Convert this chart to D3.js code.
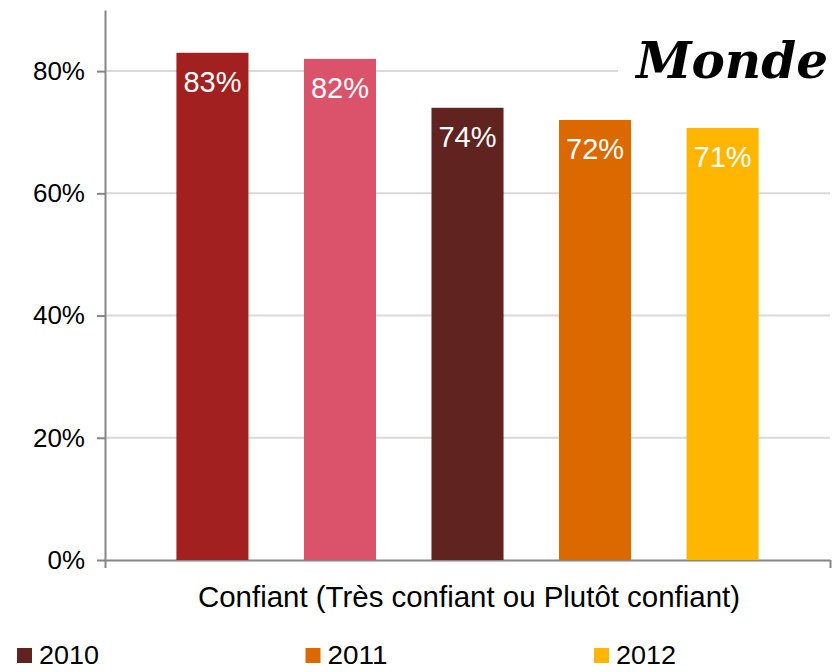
<!DOCTYPE html>
<html>
<head>
<meta charset="utf-8">
<script src="https://cdn.jsdelivr.net/npm/d3@7"></script>
<style>
  body { margin: 0; background: #fff; }
  svg text { font-family: "Liberation Sans", Arial, sans-serif; }
</style>
</head>
<body>
<div id="chart"></div>
<script>
// data
const category = "Confiant (Très confiant ou Plutôt confiant)";
const years = ["2008", "2009", "2010", "2011", "2012"];
const values = [0.83, 0.82, 0.74, 0.72, 0.707];
const colors = ["#A32020", "#DB536A", "#602320", "#DC6900", "#FFB600"];
const legendYears = ["2010", "2011", "2012"];
const yTicks = [0, 0.2, 0.4, 0.6, 0.8];
const title = "Monde";

const width = 840, height = 672;
const plot = { left: 105, right: 830, top: 10, bottom: 560 };

const svg = d3.select("#chart").append("svg")
  .attr("width", width).attr("height", height);

const x = d3.scaleBand()
  .domain(years)
  .range([plot.left, plot.right])
  .paddingInner(0.435)
  .paddingOuter(0.56);

const y = d3.scaleLinear()
  .domain([0, 0.9])
  .range([plot.bottom, plot.top]);

// gridlines
svg.append("g")
  .selectAll("line")
  .data(yTicks.filter(d => d > 0))
  .join("line")
  .attr("x1", plot.left).attr("x2", plot.right)
  .attr("y1", d => y(d)).attr("y2", d => y(d))
  .attr("stroke", "#d9d9d9").attr("stroke-width", 2);

// y axis
const yAxis = svg.append("g")
  .attr("transform", "translate(" + plot.left + ",0)")
  .call(d3.axisLeft(y).tickValues(yTicks).tickFormat(d3.format(".0%"))
        .tickSize(8).tickSizeOuter(0).tickPadding(12));
yAxis.select(".domain").attr("stroke", "#868686").attr("stroke-width", 2);
yAxis.selectAll(".tick line").attr("stroke", "#868686").attr("stroke-width", 2);
yAxis.selectAll(".tick text")
  .attr("font-size", 26).attr("fill", "#000")
  .style("font-family", "'Liberation Sans', Arial, sans-serif");

// x axis baseline
const xAxis = svg.append("g")
  .attr("transform", "translate(0," + plot.bottom + ")")
  .call(d3.axisBottom(d3.scaleLinear().domain([0, 1]).range([plot.left, plot.right]))
        .tickValues([0, 1]).tickFormat("").tickSize(8).tickSizeOuter(0));
xAxis.select(".domain").attr("stroke", "#868686").attr("stroke-width", 2);
xAxis.selectAll(".tick line").attr("stroke", "#868686").attr("stroke-width", 2);

// bars
svg.append("g")
  .selectAll("rect")
  .data(years)
  .join("rect")
  .attr("x", d => x(d))
  .attr("width", x.bandwidth())
  .attr("y", (d, i) => y(values[i]))
  .attr("height", (d, i) => y(0) - y(values[i]))
  .attr("fill", (d, i) => colors[i]);

// value labels
svg.append("g")
  .selectAll("text")
  .data(years)
  .join("text")
  .attr("x", d => x(d) + x.bandwidth() / 2)
  .attr("y", (d, i) => y(values[i]) + 39)
  .attr("text-anchor", "middle")
  .attr("font-size", 29)
  .attr("fill", "#fff")
  .text((d, i) => d3.format(".0%")(values[i]));

// category label
svg.append("text")
  .attr("x", 469)
  .attr("y", 607)
  .attr("text-anchor", "middle")
  .attr("font-size", 30)
  .attr("textLength", 542)
  .attr("lengthAdjust", "spacingAndGlyphs")
  .attr("fill", "#000")
  .text(category);

// title with white box
svg.append("rect")
  .attr("x", 618).attr("y", 30).attr("width", 212).attr("height", 58)
  .attr("fill", "#fff");
svg.append("text")
  .attr("x", 828).attr("y", 78)
  .attr("text-anchor", "end")
  .attr("font-size", 50)
  .attr("font-weight", "bold")
  .attr("font-style", "italic")
  .style("font-family", "'DejaVu Serif', Georgia, serif")
  .attr("fill", "#000")
  .text(title);

// legend (only last row visible)
const legendX = d3.scalePoint().domain(legendYears).range([17, 594]);
const legend = svg.append("g").selectAll("g")
  .data(legendYears)
  .join("g")
  .attr("transform", d => "translate(" + legendX(d) + ",648)");
legend.append("rect")
  .attr("width", 15).attr("height", 15)
  .attr("fill", d => colors[years.indexOf(d)]);
legend.append("text")
  .attr("x", 22).attr("y", 16)
  .attr("font-size", 26)
  .attr("textLength", d => d.length * 15)
  .attr("lengthAdjust", "spacingAndGlyphs")
  .attr("fill", "#000")
  .text(d => d);
</script>
</body>
</html>
